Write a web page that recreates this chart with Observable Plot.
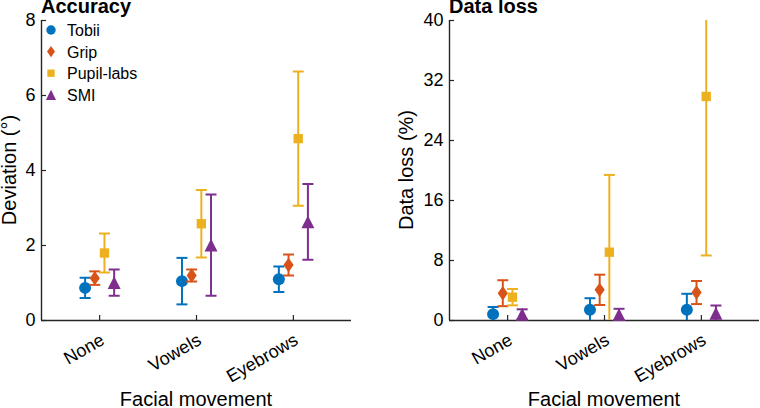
<!DOCTYPE html>
<html><head><meta charset="utf-8">
<script src="https://cdn.jsdelivr.net/npm/d3@7"></script>
<script src="https://cdn.jsdelivr.net/npm/@observablehq/plot@0.6"></script>
<style>
body{margin:0;background:#fff;}
#wrap{position:relative;width:760px;height:408px;display:flex;overflow:hidden;}
</style></head><body><div id="wrap"></div>
<script>
// ---- data ----
const categories = ["None", "Vowels", "Eyebrows"];
const seriesNames = ["Tobii", "Grip", "Pupil-labs", "SMI"];
const colors = ["#0072BD", "#D95319", "#EDB120", "#7E2F8E"];

// Accuracy: deviation (deg), mean and error half-width
const tobiiAccMean = [0.87, 1.05, 1.10];
const tobiiAccErr  = [0.27, 0.62, 0.34];
const gripAccMean  = [1.13, 1.20, 1.48];
const gripAccErr   = [0.18, 0.16, 0.28];
const pupilAccMean = [1.80, 2.58, 4.85];
const pupilAccErr  = [0.52, 0.90, 1.79];
const smiAccMean   = [1.01, 2.01, 2.63];
const smiAccErr    = [0.35, 1.35, 1.01];

// Data loss (%), mean and error half-width
const tobiiLossMean = [0.85, 1.43, 1.43];
const tobiiLossErr  = [0.95, 1.54, 2.13];
const gripLossMean  = [3.64, 4.09, 3.73];
const gripLossErr   = [1.73, 2.02, 1.54];
const pupilLossMean = [3.11, 9.11, 29.87];
const pupilLossErr  = [1.09, 10.30, 21.20];
const smiLossMean   = [0.84, 0.80, 0.98];
const smiLossErr    = [0.65, 0.76, 1.02];

const accTicks  = [0, 2, 4, 6, 8];
const lossTicks = [0, 8, 16, 24, 32, 40];

// ---- layout constants ----
const xDomain = [0.4, 3.6];
const offsets = [-0.15, -0.05, 0.05, 0.15];
const axisColor = "#262626";
const font = "'Liberation Sans', Arial, Helvetica, sans-serif";

// ---- marker shapes ----
const rad = s => Math.sqrt(s / Math.PI);
const circleSym = {draw(c, s){const r = rad(s); c.moveTo(r,0); c.arc(0,0,r,0,2*Math.PI); c.closePath();}};
const diamondSym = {draw(c, s){const r = rad(s), h = r*1.2, w = r*0.85; c.moveTo(0,-h); c.lineTo(w,0); c.lineTo(0,h); c.lineTo(-w,0); c.closePath();}};
const squareSym = {draw(c, s){const r = rad(s)*0.78; c.rect(-r,-r,2*r,2*r);}};
const triangleSym = {draw(c, s){const r = rad(s)*1.08; c.moveTo(0,-r); c.lineTo(r,r); c.lineTo(-r,r); c.closePath();}};
const capSym = {draw(c, s){const r = rad(s); c.moveTo(-r,0); c.lineTo(r,0);}};
const symbols = [circleSym, diamondSym, squareSym, triangleSym];

function panel({means, errs, yDomain, yTicks, marginLeft, marginRight, title, yLabel, yLabelX}) {
  const marks = [
    Plot.ruleY([yDomain[0]], {stroke: axisColor, strokeWidth: 1.4}),
    Plot.ruleX([xDomain[0]], {stroke: axisColor, strokeWidth: 1.4}),
    Plot.axisX({ticks: [1, 2, 3], tickSize: -5, tickFormat: () => "", stroke: axisColor, strokeWidth: 1.2, label: null}),
    Plot.axisY({ticks: yTicks, tickSize: -5, tickPadding: 11, fontSize: 18, stroke: axisColor, strokeWidth: 1.2, fill: "#000", label: null}),
    Plot.text(categories, {x: (d, i) => i + 1, y: () => yDomain[0], text: d => d, rotate: -30,
      textAnchor: "end", lineAnchor: "bottom", dx: 6, dy: 23, fontSize: 18, fill: "#000"})
  ];
  seriesNames.forEach((name, si) => {
    const rows = categories.map((c, ci) => ({
      x: ci + 1 + offsets[si], mean: means[si][ci],
      lo: means[si][ci] - errs[si][ci], hi: means[si][ci] + errs[si][ci]
    }));
    marks.push(Plot.ruleX(rows, {x: "x", y1: "lo", y2: "hi", stroke: colors[si], strokeWidth: 2, clip: true}));
    marks.push(Plot.dot(rows, {x: "x", y: "lo", symbol: capSym, r: 5.5, stroke: colors[si], strokeWidth: 2, fill: "none", clip: true}));
    marks.push(Plot.dot(rows, {x: "x", y: "hi", symbol: capSym, r: 5.5, stroke: colors[si], strokeWidth: 2, fill: "none", clip: true}));
    marks.push(Plot.dot(rows, {x: "x", y: "mean", symbol: symbols[si], r: 6, fill: colors[si], stroke: "none"}));
  });
  const svg = Plot.plot({
    width: 380, height: 408,
    marginLeft, marginRight, marginTop: 20, marginBottom: 88,
    x: {domain: xDomain},
    y: {domain: yDomain},
    style: {fontFamily: font, fontSize: "18px", color: "#000", background: "white", overflow: "visible"},
    marks
  });
  const sel = d3.select(svg);
  const x0 = marginLeft, x1 = 380 - marginRight;
  sel.append("text").attr("x", marginLeft).attr("y", 13).attr("text-anchor", "start").attr("font-weight", "bold")
    .attr("font-size", 20).attr("font-family", font).attr("fill", "#000").text(title);
  sel.append("text").attr("x", (x0 + x1) / 2).attr("y", 406).attr("text-anchor", "middle").attr("font-size", 20)
    .attr("font-family", font).attr("fill", "#000").text("Facial movement");
  sel.append("text").attr("transform", `translate(${yLabelX},170) rotate(-90)`).attr("text-anchor", "middle")
    .attr("font-size", 20).attr("font-family", font).attr("fill", "#000").text(yLabel);
  return svg;
}

const wrap = document.getElementById("wrap");
const left = panel({
  means: [tobiiAccMean, gripAccMean, pupilAccMean, smiAccMean],
  errs: [tobiiAccErr, gripAccErr, pupilAccErr, smiAccErr],
  yDomain: [0, 8], yTicks: accTicks, marginLeft: 41, marginRight: 29,
  title: "Accuracy", yLabel: "Deviation (°)", yLabelX: 16
});
const right = panel({
  means: [tobiiLossMean, gripLossMean, pupilLossMean, smiLossMean],
  errs: [tobiiLossErr, gripLossErr, pupilLossErr, smiLossErr],
  yDomain: [0, 40], yTicks: lossTicks, marginLeft: 69, marginRight: 1,
  title: "Data loss", yLabel: "Data loss (%)", yLabelX: 33
});
wrap.appendChild(left);
wrap.appendChild(right);

// legend inside the left panel
const lg = d3.select(left).append("g");
seriesNames.forEach((name, i) => {
  const y = 30 + i * 21.6;
  lg.append("path").attr("d", d3.symbol(symbols[i], Math.PI * 4.7 * 4.7)())
    .attr("transform", `translate(51,${y})`).attr("fill", colors[i]);
  lg.append("text").attr("x", 67).attr("y", y + 6).attr("text-anchor", "start").attr("font-size", 16)
    .attr("font-family", font).attr("fill", "#000").text(name);
});
</script></body></html>
